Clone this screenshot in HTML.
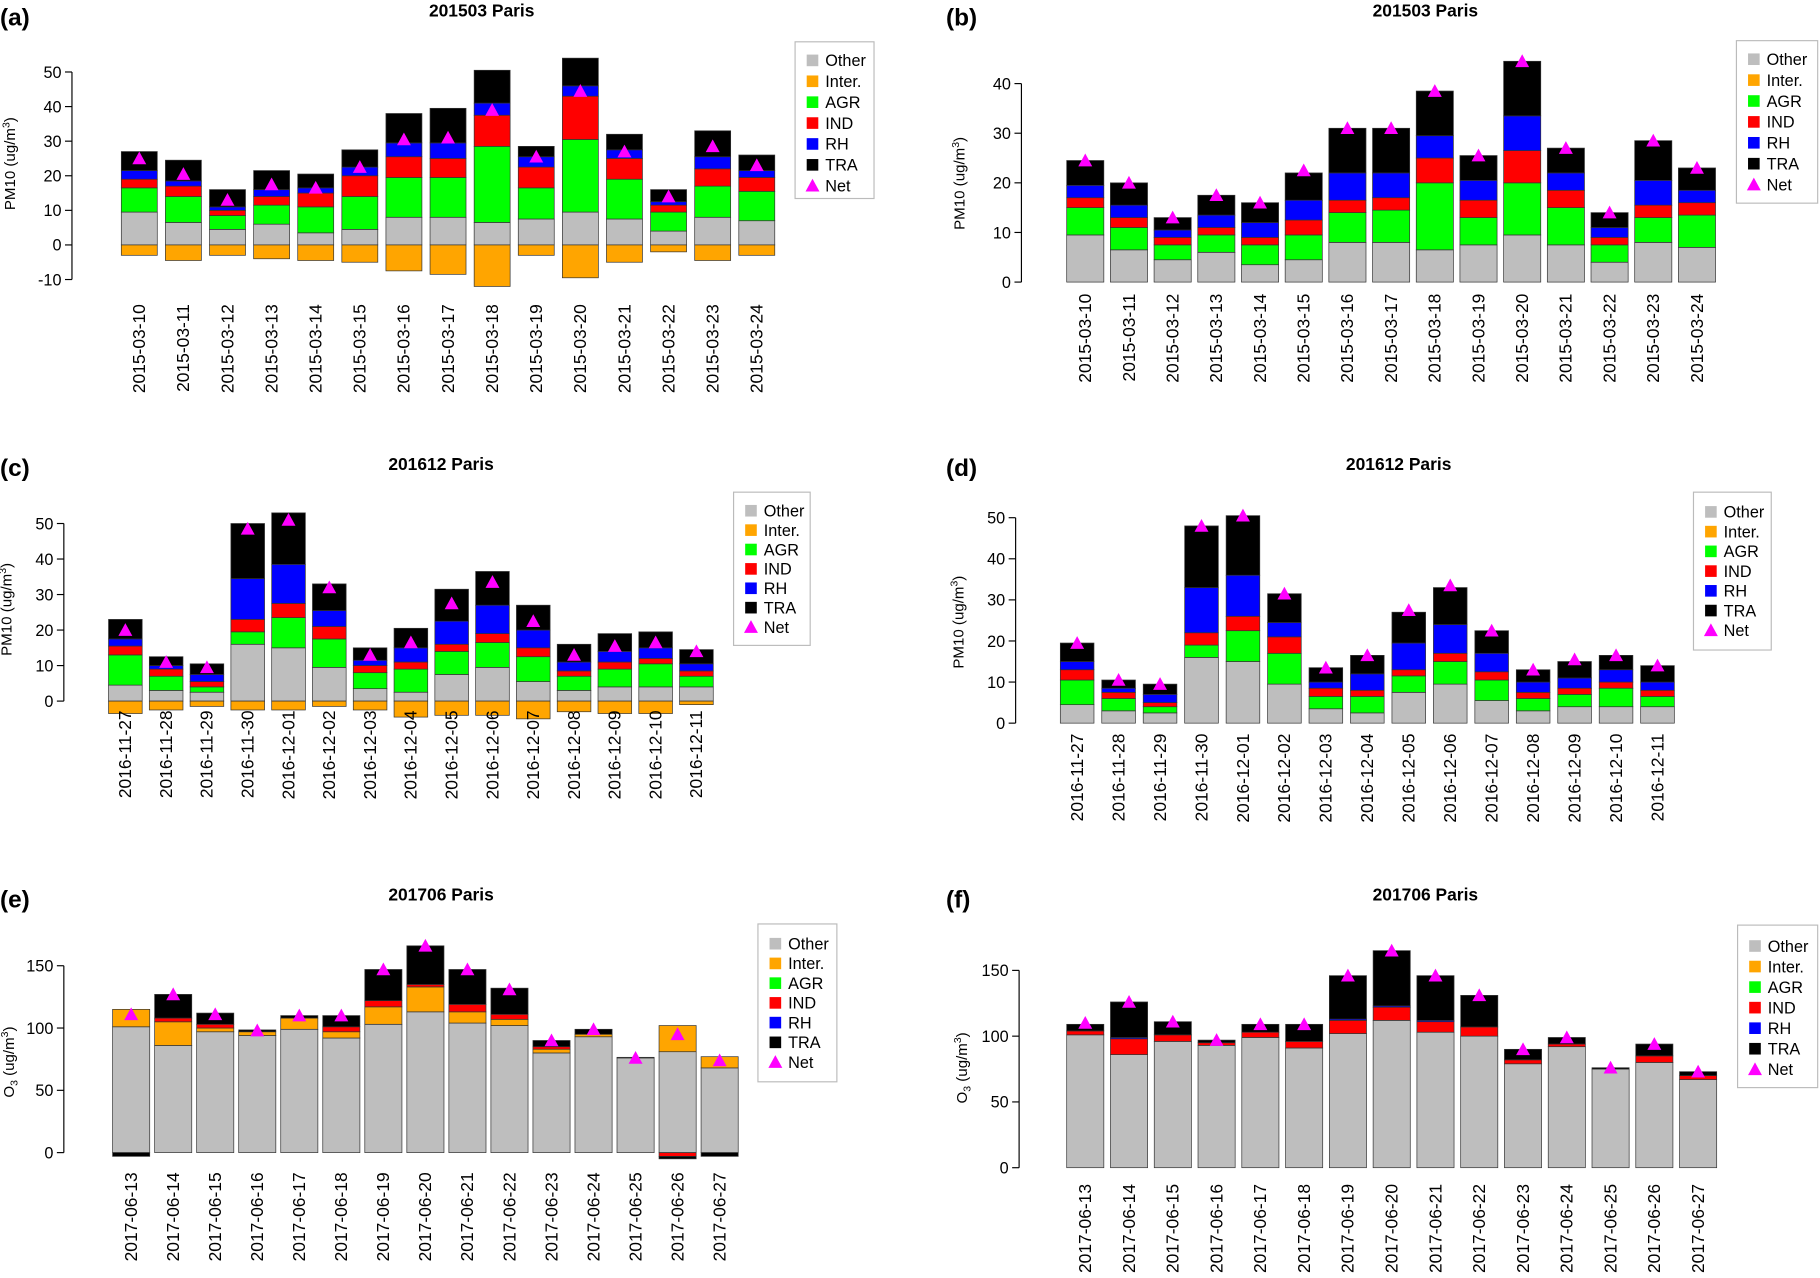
<!DOCTYPE html>
<html><head><meta charset="utf-8"><style>
html,body{margin:0;padding:0;background:#fff}
svg{display:block;font-family:"Liberation Sans",Arial,sans-serif}
</style></head><body>
<svg id="fig" width="1820" height="1278" viewBox="0 0 1568 1101" xmlns="http://www.w3.org/2000/svg"></svg>
<script>
// ---------- data ----------
const datesA = ["2015-03-10","2015-03-11","2015-03-12","2015-03-13","2015-03-14","2015-03-15","2015-03-16","2015-03-17","2015-03-18","2015-03-19","2015-03-20","2015-03-21","2015-03-22","2015-03-23","2015-03-24"];
const datesC = ["2016-11-27","2016-11-28","2016-11-29","2016-11-30","2016-12-01","2016-12-02","2016-12-03","2016-12-04","2016-12-05","2016-12-06","2016-12-07","2016-12-08","2016-12-09","2016-12-10","2016-12-11"];
const datesE = ["2017-06-13","2017-06-14","2017-06-15","2017-06-16","2017-06-17","2017-06-18","2017-06-19","2017-06-20","2017-06-21","2017-06-22","2017-06-23","2017-06-24","2017-06-25","2017-06-26","2017-06-27"];
const Z = [0,0,0,0,0,0,0,0,0,0,0,0,0,0,0];

const aOther = [9.5,6.5,4.5,6,3.5,4.5,8,8,6.5,7.5,9.5,7.5,4,8,7];
const aInter = [-3,-4.5,-3,-4,-4.5,-5,-7.5,-8.5,-12,-3,-9.5,-5,-2,-4.5,-3];
const aAgr = [7,7.5,4,5.5,7.5,9.5,11.5,11.5,22,9,21,11.5,5.5,9,8.5];
const aInd = [2.5,3,1.5,2.5,4,6,6,5.5,9,6,12.5,6,2,5,4];
const aRh = [2.5,1.5,1,2,1.5,2.5,4,4.5,3.5,3,3,2.5,1,3.5,2];
const aTra = [5.5,6,5,5.5,4,5,8.5,10,9.5,3,8,4.5,3.5,7.5,4.5];
const aNet = [25,20.5,13,17.5,16.5,22.5,30.5,31,39,25.5,44.5,27,14,28.5,23];

const bOther = [9.5,6.5,4.5,6,3.5,4.5,8,8,6.5,7.5,9.5,7.5,4,8,7];
const bAgr = [5.5,4.5,3,3.5,4,5,6,6.5,13.5,5.5,10.5,7.5,3.5,5,6.5];
const bInd = [2,2,1.5,1.5,1.5,3,2.5,2.5,5,3.5,6.5,3.5,1.5,2.5,2.5];
const bRh = [2.5,2.5,1.5,2.5,3,4,5.5,5,4.5,4,7,3.5,2,5,2.5];
const bTra = [5,4.5,2.5,4,4,5.5,9,9,9,5,11,5,3,8,4.5];
const bNet = [24.5,20,13,17.5,16,22.5,31,31,38.5,25.5,44.5,27,14,28.5,23];

const cOther = [4.5,3,2.5,16,15,9.5,3.5,2.5,7.5,9.5,5.5,3,4,4,4];
const cInter = [-3.5,-2.5,-1.5,-2.5,-2.5,-1.5,-2.5,-4.5,-4,-4,-5,-3,-3.5,-3.5,-1];
const cAgr = [8.5,4,1.5,3.5,8.5,8,4.5,6.5,6.5,7,7,4,5,6.5,3];
const cInd = [2.5,2,1.5,3.5,4,3.5,2,2,2,2.5,2.5,1.5,2,1.5,1.5];
const cRh = [2,1,2,11.5,11,4.5,1.5,4,6.5,8,5,2.5,3,3,2];
const cTra = [5.5,2.5,3,15.5,14.5,7.5,3.5,5.5,9,9.5,7,5,5,4.5,4];
const cNet = [20,11,9.5,48.5,51,32,13,16.5,27.5,33.5,22.5,13,15.5,16.5,14];

const dOther = [4.5,3,2.5,16,15,9.5,3.5,2.5,7.5,9.5,5.5,3,4,4,4];
const dAgr = [6,3,1.5,3,7.5,7.5,3,4,4,5.5,5,3,3,4.5,2.5];
const dInd = [2.5,1.5,1,3,3.5,4,2,1.5,1.5,2,2,1.5,1.5,1.5,1.5];
const dRh = [2,1,2,11,10,3.5,1.5,4,6.5,7,4.5,2.5,2.5,3,2];
const dTra = [4.5,2,2.5,15,14.5,7,3.5,4.5,7.5,9,5.5,3,4,3.5,4];
const dNet = [19.5,10.5,9.5,48,50.5,31.5,13.5,16.5,27.5,33.5,22.5,13,15.5,16.5,14];

const eOther = [101,86,97,94,99,92,103,113,104,102,80,93,76,81,68];
const eInter = [14,19,3,3,9,5,14,20,9,5,3,2,0,21,9];
const eInd = [0,3,3,0,0,4,5,2,6,4,2,0,0,-3,0];
const eTra = [-3,19,9,1.5,2,9,25,31,28,21,5,4,0.5,-2,-3];
const eNet = [111,127,111,98,110,110,147,166,147,131,90,99,76,95,74];

const fOther = [101,86,96,93,99,91,102,112,103,100,79,92,75,80,67];
const fInd = [3,12,5,2,4,5,10,10,8,7,3,2,0,5,3];
const fRh = [0,1,0,0,0,0,1,1,1,0,0,0,0,0,0];
const fTra = [5,27,10,2,6,13,33,42,34,24,8,5,1,9,3];
const fNet = [110,126,111,97,109,109,146,165,146,131,90,99,76,94,73];

const pmTicksA = [-10,0,10,20,30,40,50];
const pmTicksB = [0,10,20,30,40];
const pmTicksC = [0,10,20,30,40,50];
const o3Ticks = [0,50,100,150];
const legendLabels = ["Other","Inter.","AGR","IND","RH","TRA","Net"];

// ---------- drawing ----------
const NS = "http://www.w3.org/2000/svg";
const svg = document.getElementById('fig');
const COLORS = ["#bebebe","#ffa500","#00ff00","#ff0000","#0000ff","#000000"];
const SNAMES = ["other","inter","agr","ind","rh","tra"];
function mk(tag, attrs, parent){
  const e = document.createElementNS(NS, tag);
  for (const k in attrs) e.setAttribute(k, attrs[k]);
  (parent||svg).appendChild(e);
  return e;
}

function panel(p){
  const g = mk('g', {});
  
  
  const ys = v => p.y0 + v * (p.yT - p.y0) / p.vT;
  const n = p.dates.length;
  const xs = i => p.x0 + i * (p.x1 - p.x0) / (n - 1);

  const lab = mk('text', {x:p.lx, y:p.ly, 'font-size':21, 'font-weight':'bold'}, g);
  lab.textContent = '(' + p.id + ')';
  
  
  const t = mk('text', {x:p.tx, y:p.ty, 'font-size':15, 'font-weight':'bold', 'text-anchor':'middle'}, g);
  t.textContent = p.title;
  
  

  const ymin = p.ticks[0], ymax = p.ticks[p.ticks.length-1];
  const ax = mk('line', {x1:p.ax, x2:p.ax, y1:ys(ymin), y2:ys(ymax), stroke:'#000', 'stroke-width':1}, g);
  
  
  p.ticks.forEach(v => {
    mk('line', {x1:p.ax-6, x2:p.ax, y1:ys(v), y2:ys(v), stroke:'#000', 'stroke-width':1}, g);
    const tl = mk('text', {x:p.ax-9, y:ys(v)+5, 'font-size':14, 'text-anchor':'end'}, g);
    tl.textContent = v;
    
    
  });
  const yl = mk('text', {x:0, y:0, 'font-size':13, 'text-anchor':'middle', transform:`translate(${p.ylx},${p.yly}) rotate(-90)`}, g);
  
  
  if (p.o3) {
    yl.innerHTML = 'O<tspan font-size="9" dy="3">3</tspan><tspan dy="-3"> (ug/m</tspan><tspan font-size="9" dy="-5">3</tspan><tspan dy="5">)</tspan>';
  } else {
    yl.innerHTML = 'PM10 (ug/m<tspan font-size="9" dy="-5">3</tspan><tspan dy="5">)</tspan>';
  }

  for (let i = 0; i < n; i++){
    const cx = xs(i);
    let pos = 0, neg = 0;
    p.series.forEach((arr, s) => {
      const v = arr[i];
      if (!v) return;
      let a, b;
      if (v > 0) { a = pos; b = pos + v; pos = b; }
      else { a = neg; b = neg + v; neg = b; }
      const y1 = ys(Math.max(a,b)), y2 = ys(Math.min(a,b));
      const r = mk('rect', {x:cx - p.bw/2, y:y1, width:p.bw, height:Math.max(0.5, y2-y1), fill:COLORS[s], stroke:'#333', 'stroke-width':0.6}, g);
      
      
    });
    const ny = ys(p.net[i]);
    const tri = mk('polygon', {points:`${cx},${ny-6} ${cx-6},${ny+5} ${cx+6},${ny+5}`, fill:'#ff00ff'}, g);
    
    
    const xl = mk('text', {x:0, y:0, 'font-size':15, 'text-anchor':'end', transform:`translate(${cx+5},${p.xly}) rotate(-90)`}, g);
    xl.textContent = p.dates[i];
    
    
  }

  const lg = mk('g', {}, g);
  
  
  mk('rect', {x:p.lgx, y:p.lgy, width:p.lgw, height:p.lgh, fill:'#fff', stroke:'#bbb', 'stroke-width':1}, lg);
  legendLabels.forEach((L, k) => {
    const ey = p.lgy + p.lg0 + k * p.lgs;
    if (k < 6) {
      mk('rect', {x:p.lgx+10, y:ey-5, width:10, height:10, fill:COLORS[k]}, lg);
    } else {
      const cx = p.lgx+15;
      mk('polygon', {points:`${cx},${ey-6} ${cx-6},${ey+5} ${cx+6},${ey+5}`, fill:'#ff00ff'}, lg);
    }
    const lt = mk('text', {x:p.lgx+26, y:ey+5, 'font-size':14}, lg);
    lt.textContent = L;
    
    
  });
}

panel({id:'a', title:'201503 Paris', dates:datesA, series:[aOther,aInter,aAgr,aInd,aRh,aTra], net:aNet,
  ticks:pmTicksA, y0:211, yT:62, vT:50, x0:120, x1:652, bw:31, ax:62, ylx:13, yly:141, xly:262,
  lx:0, ly:22, tx:415, ty:14, lgx:685, lgy:36, lgw:68, lgh:135, lg0:16, lgs:18});
panel({id:'b', title:'201503 Paris', dates:datesA, series:[bOther,Z,bAgr,bInd,bRh,bTra], net:bNet,
  ticks:pmTicksB, y0:243, yT:72, vT:40, x0:935, x1:1462, bw:32, ax:880, ylx:831, yly:158, xly:253,
  lx:815, ly:22, tx:1228, ty:14, lgx:1496, lgy:35, lgw:70, lgh:140, lg0:16, lgs:18});
panel({id:'c', title:'201612 Paris', dates:datesC, series:[cOther,cInter,cAgr,cInd,cRh,cTra], net:cNet,
  ticks:pmTicksC, y0:604, yT:451, vT:50, x0:108, x1:600, bw:29, ax:55, ylx:10, yly:525, xly:612,
  lx:0, ly:410, tx:380, ty:405, lgx:632, lgy:424, lgw:66, lgh:132, lg0:16, lgs:16.7});
panel({id:'d', title:'201612 Paris', dates:datesC, series:[dOther,Z,dAgr,dInd,dRh,dTra], net:dNet,
  ticks:pmTicksC, y0:623, yT:446, vT:50, x0:928, x1:1428, bw:29, ax:875, ylx:830, yly:536, xly:632,
  lx:815, ly:410, tx:1205, ty:405, lgx:1459, lgy:424, lgw:67, lgh:136, lg0:17, lgs:17});
panel({id:'e', title:'201706 Paris', dates:datesE, series:[eOther,eInter,Z,eInd,Z,eTra], net:eNet, o3:true,
  ticks:o3Ticks, y0:993, yT:832, vT:150, x0:113, x1:620, bw:32, ax:55, ylx:12, yly:915, xly:1010,
  lx:0, ly:782, tx:380, ty:776, lgx:653, lgy:796, lgw:68, lgh:136, lg0:17, lgs:17});
panel({id:'f', title:'201706 Paris', dates:datesE, series:[fOther,Z,Z,fInd,fRh,fTra], net:fNet, o3:true,
  ticks:o3Ticks, y0:1006, yT:836, vT:150, x0:935, x1:1463, bw:32, ax:878, ylx:833, yly:920, xly:1020,
  lx:815, ly:782, tx:1228, ty:776, lgx:1497, lgy:797, lgw:69, lgh:140, lg0:18, lgs:17.7});
</script>
</body></html>
